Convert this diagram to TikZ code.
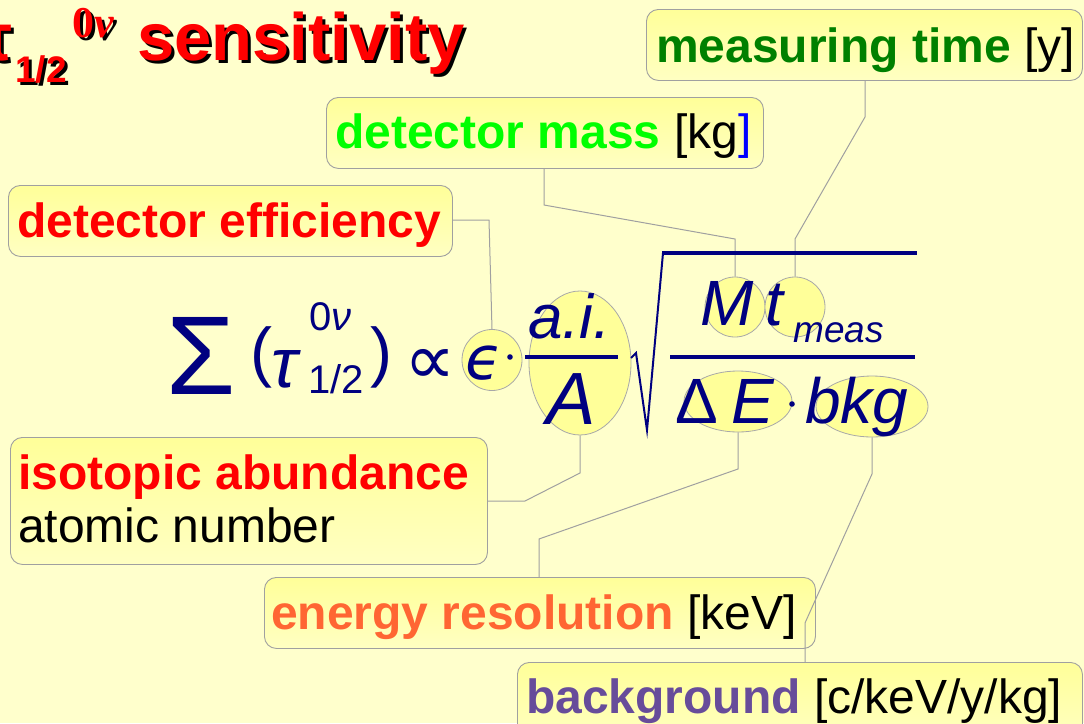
\documentclass[tikz,border=0pt]{standalone}
\usepackage{fontspec}
\setmainfont{Liberation Sans}
\newfontfamily\serifb{Liberation Serif}
\newfontfamily\dejavu{DejaVu Sans}
\usetikzlibrary{shapes.geometric}
\newcommand\myfs[1]{\fontsize{#1}{#1}\selectfont}
\definecolor{bgc}{HTML}{FFFFCC}
\definecolor{boxtop}{HTML}{FFFF99}
\definecolor{boxbot}{HTML}{FFFFC2}
\definecolor{boxline}{HTML}{A0A0A0}
\definecolor{ellfill}{HTML}{FFFF99}
\definecolor{ellline}{HTML}{A8A8A8}
\definecolor{connline}{HTML}{A0A0A0}
\definecolor{navy}{HTML}{000080}
\definecolor{dkgreen}{HTML}{008000}
\definecolor{ltgreen}{HTML}{00FF00}
\definecolor{orng}{HTML}{FF6633}
\definecolor{purp}{HTML}{674C9A}
\begin{document}
\begin{tikzpicture}[x=1pt,y=-1pt,
  box/.style={draw=boxline, line width=0.9pt, rounded corners=12pt, top color=boxtop, bottom color=boxbot, inner sep=0pt, anchor=north west},
  lbl/.style={anchor=base west, inner sep=0pt, font=\myfs{48}},
  ell/.style={ellipse, draw=ellline, line width=0.8pt, fill=ellfill, inner sep=0pt},
  conn/.style={draw=connline, line width=1pt},
  fm/.style={text=navy, inner sep=0pt, anchor=base west},
  ttl/.style={anchor=base west, inner sep=0pt},
]
\useasboundingbox (0,0) rectangle (1084,723);
\clip (0,0) rectangle (1084,723);
\fill[bgc] (0,0) rectangle (1084,723);

% title
\foreach \dx/\dy/\c in {3/3/black,0/0/red}{
  \node[ttl, anchor=base east, text=\c, font=\bfseries\myfs{67}] at (13+\dx,60+\dy) {τ};
  \node[ttl, text=\c, font=\bfseries\myfs{37}] at (15+\dx,82+\dy) {1/2};
  \node[ttl, text=\c, font=\serifb\bfseries\myfs{44}] at (72+\dx,37+\dy) {0\itshape ν};
  \node[ttl, text=\c, font=\bfseries\myfs{67}] at (137+\dx,60+\dy) {sensitivity};
}

% boxes
\node[box, minimum width=436, minimum height=71] (mt) at (646,9) {};
\node[box, minimum width=437, minimum height=71] (dm) at (326,97) {};
\node[box, minimum width=444, minimum height=71] (de) at (8,185) {};
\node[box, minimum width=477, minimum height=127] (ia) at (10,437) {};
\node[box, minimum width=551, minimum height=71] (er) at (264,577) {};
\node[box, minimum width=565, minimum height=80] (bg) at (517,662) {};

\node[lbl] (mtT) at (656,62) {{\bfseries\color{dkgreen}measuring time} [y]};
\node[lbl] (dmT) at (335,148) {{\bfseries\color{ltgreen}detector mass} [kg\textcolor{blue}{]}};
\node[lbl] (deT) at (17,237) {\bfseries\color{red}detector efficiency};
\node[lbl] (iaT1) at (18,489) {\bfseries\color{red}isotopic abundance};
\node[lbl] (iaT2) at (18,542) {atomic number};
\node[lbl] (erT) at (271,629) {{\bfseries\color{orng}energy resolution} [keV]};
\node[lbl] (bgT) at (526,713) {{\bfseries\color{purp}background} [c/keV/y/kg]};

% ellipses
\node[ell, minimum width=60, minimum height=61] (eps) at (492,360) {};
\node[ell, minimum width=102, minimum height=144] (ai) at (580,363) {};
\node[ell, minimum width=60, minimum height=60] (Mm) at (735,307) {};
\node[ell, minimum width=60, minimum height=60] (tt) at (795,307) {};
\node[ell, minimum width=108, minimum height=61] (dE) at (738,401.5) {};
\node[ell, minimum width=112, minimum height=61] (bk) at (872,406.5) {};

% connectors
\coordinate (c1) at (489,220);
\draw[conn] (de.east |- c1) -- (c1) -- (eps.north);
\coordinate (c2a) at (544,205); \coordinate (c2b) at (735,239);
\draw[conn] (dm.south -| c2a) -- (c2a) -- (c2b) -- (Mm.north);
\coordinate (c3a) at (865,117); \coordinate (c3b) at (795,239);
\draw[conn] (mt.south -| c3a) -- (c3a) -- (c3b) -- (tt.north);
\coordinate (c4a) at (525,501); \coordinate (c4b) at (580,473);
\draw[conn] (ia.east |- c4a) -- (c4a) -- (c4b) -- (ai.south);
\coordinate (c5a) at (738,469); \coordinate (c5b) at (539,539);
\draw[conn] (dE.south) -- (c5a) -- (c5b) -- (er.north -| c5b);
\coordinate (c6a) at (872,474); \coordinate (c6b) at (805,623);
\draw[conn] (bk.south) -- (c6a) -- (c6b) -- (bg.north -| c6b);

% formula
\node[fm, anchor=base] (sig) at (201,394) {\myfs{112}Σ};
\node[fm] (lp) at (250,374) {\myfs{66}(};
\node[fm] (tau) at (271,387) {\myfs{70}\itshape τ};
\node[fm] (sup) at (309,330) {\myfs{40}0\itshape ν};
\node[fm] (sub) at (308,393) {\myfs{40}1/2};
\node[fm] (rp) at (370,374) {\myfs{66})};
\node[fm, anchor=center] (prop) at (430,367) {\dejavu\myfs{72}∝};
\node[fm, anchor=center] (ep) at (484,363) {\dejavu\itshape\myfs{60}ϵ};
\fill[navy] (510,357) circle (2.8);
\node[fm] (ait) at (528,338) {\myfs{62}\itshape a.i.};
\draw[navy, line width=3.5pt] (525,357) -- (618,357);
\node[fm] (At) at (546,424) {\myfs{74}\itshape A};
\draw[navy, line width=2pt, line join=miter] (631,358) -- (636,353) -- (647,430) -- (663,253);
\draw[navy, line width=3.2pt] (662,253) -- (917,253);
\node[fm] (Mt) at (700,325) {\myfs{64}\itshape M};
\node[fm] (tT) at (765,325) {\myfs{64}\itshape t};
\node[fm] (meas) at (793,342) {\myfs{37}\itshape meas};
\draw[navy, line width=3.5pt] (670,357) -- (915,357);
\node[fm] (Dl) at (675,423) {\myfs{64}Δ};
\node[fm] (Et) at (731,423) {\myfs{64}\itshape E};
\fill[navy] (792,404) circle (2.8);
\node[fm] (bkg) at (805,423) {\myfs{64}\itshape bkg};
\end{tikzpicture}
\end{document}
